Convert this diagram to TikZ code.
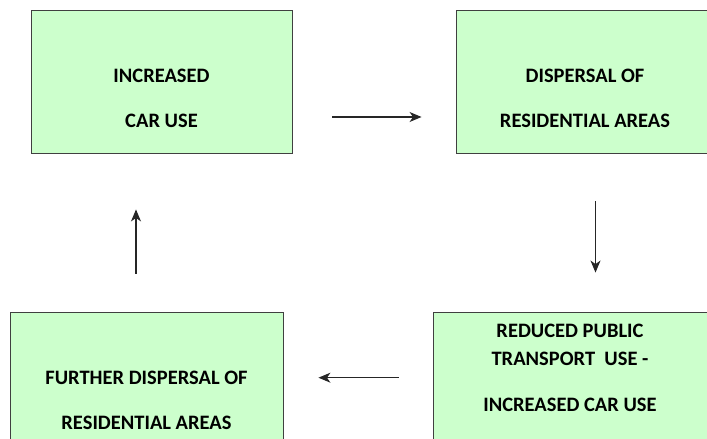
\documentclass[tikz,border=0pt]{standalone}
\usepackage{fontspec}
\setmainfont{Carlito}
\usetikzlibrary{arrows.meta,positioning}
\definecolor{boxgreen}{HTML}{CCFFCC}
\begin{document}
\begin{tikzpicture}[x=1pt,y=1pt,
	cyclebox/.style={draw=black!75, line width=0.9pt, fill=boxgreen, inner sep=0pt, minimum height=143pt},
	cyclelabel/.style={font=\bfseries\fontsize{20.5}{22}\selectfont, inner sep=0pt},
	cyclearrow/.style={-{Stealth[length=12pt,width=10pt,inset=3.5pt]}, line width=1.1pt, black!85}
	]
	\useasboundingbox (0,0) rectangle (707,439);
	\clip (0,0) rectangle (707,439);
	% the four stages
	\node[cyclebox, minimum width=261pt] (IncCar) at (161.5,357.5) {};
	\node[cyclebox, minimum width=258pt] (Dispersal) at (585,357.5) {};
	\node[cyclebox, minimum width=274pt] (ReducedPT) at (570,55.5) {};
	\node[cyclebox, minimum width=273pt] (FurtherDisp) at (146.5,55.5) {};
	% their texts
	\node[cyclelabel] (IncCarA) at ([yshift=-66pt]IncCar.north) {INCREASED};
	\node[cyclelabel] (IncCarB) at ([yshift=-111pt]IncCar.north) {CAR USE};
	\node[cyclelabel] (DispersalA) at ([yshift=-66pt]Dispersal.north) {DISPERSAL OF};
	\node[cyclelabel] (DispersalB) at ([yshift=-111pt]Dispersal.north) {RESIDENTIAL AREAS};
	\node[cyclelabel] (ReducedPTA) at ([yshift=-19pt]ReducedPT.north) {REDUCED PUBLIC};
	\node[cyclelabel] (ReducedPTB) at ([yshift=-47pt]ReducedPT.north) {TRANSPORT\ \ USE -};
	\node[cyclelabel] (ReducedPTC) at ([yshift=-93pt]ReducedPT.north) {INCREASED CAR USE};
	\node[cyclelabel] (FurtherDispA) at ([yshift=-66pt]FurtherDisp.north) {FURTHER DISPERSAL OF};
	\node[cyclelabel] (FurtherDispB) at ([yshift=-111pt]FurtherDisp.north) {RESIDENTIAL AREAS};
	% the cycle
	\draw[cyclearrow, shorten <=40pt, shorten >=34pt] ([yshift=-35.5pt]IncCar.east) -- ([yshift=-35.5pt]Dispersal.west);
	\draw[cyclearrow, shorten <=48pt, shorten >=39pt] ([xshift=10.5pt]Dispersal.south) -- ([xshift=10.5pt]Dispersal.south |- ReducedPT.north);
	\draw[cyclearrow, shorten <=34pt, shorten >=35pt] ([yshift=5.8pt]ReducedPT.west) -- ([yshift=5.8pt]FurtherDisp.east);
	\draw[cyclearrow, shorten <=38pt, shorten >=56pt] ([xshift=-10.5pt]FurtherDisp.north) -- ([xshift=-10.5pt]FurtherDisp.north |- IncCar.south);
\end{tikzpicture}
\end{document}
